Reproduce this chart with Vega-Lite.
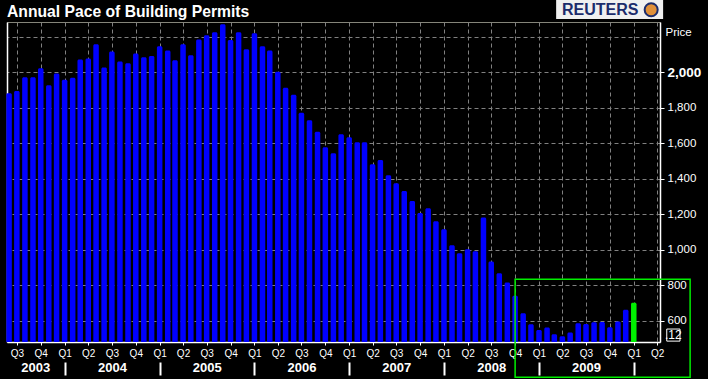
{
  "$schema": "https://vega.github.io/schema/vega-lite/v6.json",
  "width": 653,
  "height": 320,
  "autosize": {"type": "none"},
  "padding": {"left": 7, "top": 22, "right": 48, "bottom": 37},
  "background": "#000000",
  "config": {"view": {"stroke": "#85857a", "strokeWidth": 1}, "font": "Liberation Sans", "scale": {"continuousPadding": 0}},
  "title": {"text": "Annual Pace of Building Permits", "anchor": "start", "frame": "group", "baseline": "alphabetic", "offset": -11, "dy": 22, "fontSize": 15.7, "fontWeight": "bold", "color": "#ffffff", "font": "Liberation Sans"},
  "datasets": {
    "permits": [
      {"date": "2003-06-01", "permits": 1880}, {"date": "2003-07-01", "permits": 1893}, {"date": "2003-08-01", "permits": 1970},
      {"date": "2003-09-01", "permits": 1970}, {"date": "2003-10-01", "permits": 2021}, {"date": "2003-11-01", "permits": 1925},
      {"date": "2003-12-01", "permits": 1992}, {"date": "2004-01-01", "permits": 1957}, {"date": "2004-02-01", "permits": 1968},
      {"date": "2004-03-01", "permits": 2071}, {"date": "2004-04-01", "permits": 2077}, {"date": "2004-05-01", "permits": 2156},
      {"date": "2004-06-01", "permits": 2026}, {"date": "2004-07-01", "permits": 2116}, {"date": "2004-08-01", "permits": 2060},
      {"date": "2004-09-01", "permits": 2049}, {"date": "2004-10-01", "permits": 2105}, {"date": "2004-11-01", "permits": 2083},
      {"date": "2004-12-01", "permits": 2090}, {"date": "2005-01-01", "permits": 2146}, {"date": "2005-02-01", "permits": 2122},
      {"date": "2005-03-01", "permits": 2066}, {"date": "2005-04-01", "permits": 2156}, {"date": "2005-05-01", "permits": 2094},
      {"date": "2005-06-01", "permits": 2184}, {"date": "2005-07-01", "permits": 2207}, {"date": "2005-08-01", "permits": 2224},
      {"date": "2005-09-01", "permits": 2269}, {"date": "2005-10-01", "permits": 2180}, {"date": "2005-11-01", "permits": 2224},
      {"date": "2005-12-01", "permits": 2128}, {"date": "2006-01-01", "permits": 2218}, {"date": "2006-02-01", "permits": 2145},
      {"date": "2006-03-01", "permits": 2122}, {"date": "2006-04-01", "permits": 2002}, {"date": "2006-05-01", "permits": 1912},
      {"date": "2006-06-01", "permits": 1872}, {"date": "2006-07-01", "permits": 1771}, {"date": "2006-08-01", "permits": 1728},
      {"date": "2006-09-01", "permits": 1664}, {"date": "2006-10-01", "permits": 1576}, {"date": "2006-11-01", "permits": 1542},
      {"date": "2006-12-01", "permits": 1649}, {"date": "2007-01-01", "permits": 1632}, {"date": "2007-02-01", "permits": 1604},
      {"date": "2007-03-01", "permits": 1604}, {"date": "2007-04-01", "permits": 1480}, {"date": "2007-05-01", "permits": 1504},
      {"date": "2007-06-01", "permits": 1418}, {"date": "2007-07-01", "permits": 1373}, {"date": "2007-08-01", "permits": 1330},
      {"date": "2007-09-01", "permits": 1273}, {"date": "2007-10-01", "permits": 1206}, {"date": "2007-11-01", "permits": 1232},
      {"date": "2007-12-01", "permits": 1159}, {"date": "2008-01-01", "permits": 1114}, {"date": "2008-02-01", "permits": 1024},
      {"date": "2008-03-01", "permits": 979}, {"date": "2008-04-01", "permits": 1001}, {"date": "2008-05-01", "permits": 990},
      {"date": "2008-06-01", "permits": 1181}, {"date": "2008-07-01", "permits": 933}, {"date": "2008-08-01", "permits": 866},
      {"date": "2008-09-01", "permits": 814}, {"date": "2008-10-01", "permits": 740}, {"date": "2008-11-01", "permits": 641},
      {"date": "2008-12-01", "permits": 579}, {"date": "2009-01-01", "permits": 546}, {"date": "2009-02-01", "permits": 561},
      {"date": "2009-03-01", "permits": 522}, {"date": "2009-04-01", "permits": 512}, {"date": "2009-05-01", "permits": 533},
      {"date": "2009-06-01", "permits": 585}, {"date": "2009-07-01", "permits": 580}, {"date": "2009-08-01", "permits": 590},
      {"date": "2009-09-01", "permits": 592}, {"date": "2009-10-01", "permits": 562}, {"date": "2009-11-01", "permits": 595},
      {"date": "2009-12-01", "permits": 661}, {"date": "2010-01-01", "permits": 700}
    ]
  },
  "layer": [
    {
      "data": {"name": "permits"},
      "mark": {"type": "bar", "size": 5.5, "cornerRadiusTopLeft": 1.5, "cornerRadiusTopRight": 1.5},
      "encoding": {
        "x": {
          "field": "date", "type": "temporal",
          "scale": {"domain": [{"year": 2003, "month": 5, "date": 24}, {"year": 2010, "month": 4, "date": 12}], "nice": false, "padding": 0},
          "axis": {
            "orient": "bottom", "tickCount": {"interval": "month", "step": 3}, "format": "Q%q",
            "labelColor": "#ffffff", "labelFontSize": 10, "labelPadding": 3, "labelFlush": false, "labelOverlap": false,
            "tickColor": "#ffffff", "tickSize": 3, "tickWidth": 1,
            "domainColor": "#ffffff", "domainWidth": 1.5,
            "grid": true, "gridColor": "#808080", "gridDash": [4, 3], "gridWidth": 1, "title": null
          }
        },
        "y": {
          "field": "permits", "type": "quantitative",
          "scale": {"domain": [479, 2282], "zero": false, "nice": false, "padding": 0},
          "axis": {
            "orient": "right", "values": [600, 800, 1000, 1200, 1400, 1600, 1800, 2000, 2200], "format": ",.0f",
            "labelExpr": "datum.value == 2200 ? '' : datum.label",
            "labelColor": "#ffffff",
            "labelFontSize": {"condition": {"test": "datum.value == 2000", "value": 13.5}, "value": 11.5},
            "labelFontWeight": {"condition": {"test": "datum.value == 2000", "value": "bold"}, "value": "normal"},
            "labelPadding": 3, "labelFlush": false, "labelOverlap": false,
            "tickSize": 4, "tickColor": "#ffffff",
            "tickOpacity": {"condition": {"test": "datum.value == 2200", "value": 0}, "value": 1},
            "domainColor": "#ffffff", "domainWidth": 1.5,
            "grid": true, "gridColor": "#808080", "gridDash": [4, 3], "gridWidth": 1,
            "title": "Price", "titleAngle": 0, "titleAlign": "left", "titleBaseline": "alphabetic",
            "titleX": 5, "titleY": 13.7, "titleColor": "#ffffff", "titleFontSize": 11.5, "titleFontWeight": "normal"
          }
        },
        "y2": {"datum": 479},
        "color": {"condition": {"test": "year(datum.date) >= 2010", "value": "#00f000"}, "value": "#0000ff"}
      }
    },
    {
      "data": {"values": [{}]},
      "mark": {"type": "rect", "fill": null, "fillOpacity": 0, "stroke": "#00ee00", "strokeWidth": 1.5},
      "encoding": {
        "x": {
          "datum": {"year": 2008, "month": 10, "date": 1}, "type": "temporal",
          "scale": {"domain": [{"year": 2003, "month": 5, "date": 24}, {"year": 2010, "month": 4, "date": 12}], "nice": false, "padding": 0},
          "axis": {
            "orient": "bottom",
            "values": [{"year": 2003, "month": 9, "date": 10}, {"year": 2004, "month": 7, "date": 1}, {"year": 2005, "month": 7, "date": 1}, {"year": 2006, "month": 7, "date": 1}, {"year": 2007, "month": 7, "date": 1}, {"year": 2008, "month": 7, "date": 1}, {"year": 2009, "month": 7, "date": 1}],
            "format": "%Y", "domain": false, "ticks": false, "grid": false, "labelPadding": 0, "offset": 19,
            "labelColor": "#ffffff", "labelFontSize": 13, "labelFontWeight": "bold", "labelFlush": false, "labelOverlap": false, "title": null
          }
        },
        "x2": {"datum": {"year": 2010, "month": 8, "date": 6}},
        "y": {
          "datum": 832, "type": "quantitative",
          "scale": {"domain": [479, 2282], "zero": false, "nice": false, "padding": 0},
          "axis": {"orient": "left", "labels": false, "ticks": false, "grid": false, "domainColor": "#ffffff", "domainWidth": 1.5, "title": null}
        },
        "y2": {"datum": 280}
      }
    },
    {
      "data": {"values": [{}]},
      "mark": {"type": "rect", "fill": null, "fillOpacity": 0, "stroke": "#ffffff", "strokeWidth": 1},
      "encoding": {
        "x": {
          "datum": {"year": 2010, "month": 5, "date": 8}, "type": "temporal",
          "scale": {"domain": [{"year": 2003, "month": 5, "date": 24}, {"year": 2010, "month": 4, "date": 12}], "nice": false, "padding": 0},
          "axis": {
            "orient": "bottom",
            "values": [{"year": 2004, "month": 1, "date": 1}, {"year": 2005, "month": 1, "date": 1}, {"year": 2006, "month": 1, "date": 1}, {"year": 2007, "month": 1, "date": 1}, {"year": 2008, "month": 1, "date": 1}, {"year": 2009, "month": 1, "date": 1}, {"year": 2010, "month": 1, "date": 1}],
            "labels": false, "domain": false, "grid": false, "ticks": true, "tickSize": 13, "tickWidth": 2, "tickColor": "#ffffff", "offset": 20, "title": null
          }
        },
        "x2": {"datum": {"year": 2010, "month": 6, "date": 28}},
        "y": {"datum": 552, "type": "quantitative", "axis": null},
        "y2": {"datum": 484}
      }
    },
    {
      "data": {"values": [{}]},
      "mark": {"type": "text", "text": ".12", "color": "#ffffff", "fontSize": 12, "align": "center", "baseline": "middle"},
      "encoding": {
        "x": {"datum": {"year": 2010, "month": 6, "date": 2}, "type": "temporal", "axis": null},
        "y": {"datum": 518, "type": "quantitative", "axis": null}
      }
    },
    {
      "data": {"values": [{}]},
      "mark": {"type": "rect", "fill": "#f0f0f0", "stroke": null},
      "encoding": {
        "x": {"datum": {"year": 2009, "month": 3, "date": 8}, "type": "temporal", "axis": null},
        "x2": {"datum": {"year": 2010, "month": 4, "date": 24}},
        "y": {"datum": 2406, "type": "quantitative", "axis": null},
        "y2": {"datum": 2299}
      }
    },
    {
      "data": {"values": [{}]},
      "mark": {"type": "text", "text": "REUTERS", "color": "#1c2c6c", "fontSize": 16, "fontWeight": "bold", "align": "center", "baseline": "middle"},
      "encoding": {
        "x": {"datum": {"year": 2009, "month": 8, "date": 25}, "type": "temporal", "axis": null},
        "y": {"datum": 2349, "type": "quantitative", "axis": null}
      }
    },
    {
      "data": {"values": [{}]},
      "mark": {"type": "point", "shape": "circle", "filled": true, "fill": "#e0903a", "stroke": "#1c2c6c", "strokeWidth": 2, "size": 170, "opacity": 1},
      "encoding": {
        "x": {"datum": {"year": 2010, "month": 3, "date": 9}, "type": "temporal", "axis": null},
        "y": {"datum": 2351, "type": "quantitative", "axis": null}
      }
    }
  ],
  "resolve": {"axis": {"x": "independent", "y": "independent"}}
}
